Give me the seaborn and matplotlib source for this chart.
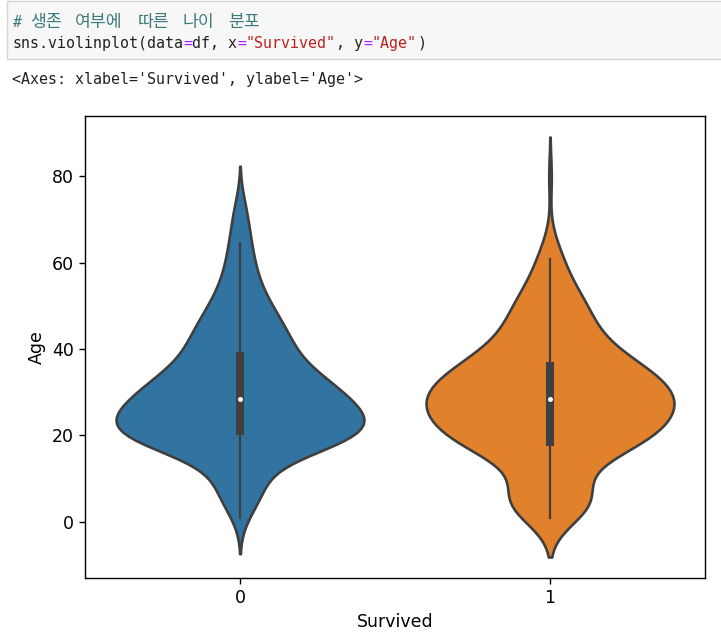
import numpy as np
import pandas as pd
import seaborn as sns
from matplotlib import pyplot as plt
from matplotlib.patches import Rectangle

# Age grid (years) and passenger counts at each age, by survival
ages = [1, 3.5, 6, 8.5, 11, 13.5, 16, 18.5, 21, 23.5, 26, 28.5, 31, 33.5, 36, 38.5,
        41, 43.5, 46, 48.5, 51, 53.5, 56, 58.5, 61, 64.5, 66, 68.5, 71, 74, 80]
died_counts = [2, 5, 7, 8, 7, 7, 18, 39, 39, 41, 35, 31, 30, 25, 18, 16,
               16, 14, 13, 10, 9, 6, 6, 4, 5, 4, 2, 2, 3, 2, 0]
survived_counts = [6, 11, 10, 5, 4, 6, 13, 20, 19, 21, 23, 23, 22, 20, 17, 13,
                   10, 8, 8, 7, 7, 5, 3, 3, 3, 2, 0, 0, 0, 0, 1]
groups = ["0", "1"]
colors = ["#1f77b4", "#ff7f0e"]

df = pd.DataFrame({
    "Survived": np.repeat(groups, [sum(died_counts), sum(survived_counts)]),
    "Age": np.concatenate([np.repeat(ages, died_counts), np.repeat(ages, survived_counts)]),
})

W, H = 721, 638
fig = plt.figure(figsize=(W / 100, H / 100), dpi=100)


def fx(x):
    return x / W


def fy(y):
    return 1 - y / H


# notebook code cell
fig.add_artist(Rectangle((fx(7), fy(59)), fx(730) - fx(7), fy(1) - fy(59),
                         transform=fig.transFigure, facecolor="#f7f7f7",
                         edgecolor="#d4d4d4", linewidth=1))

mono = "DejaVu Sans Mono"
kr = "Noto Sans CJK KR"
char_w = 9
x0 = 12

fig.text(fx(x0), fy(27), "#", family=mono, style="italic", size=10.8, color="#3D7B7B")
for col, word in [(2, "생존"), (7, "여부에"), (14, "따른"), (19, "나이"), (24, "분포")]:
    fig.text(fx(x0 + col * char_w), fy(27), word, family=[kr, mono], size=12.4, color="#3D7B7B")

code_parts = [(0, "sns.violinplot(data", "#212121"), (19, "=", "#AA22FF"), (20, "df, x", "#212121"),
              (25, "=", "#AA22FF"), (26, '"Survived"', "#BA2121"), (36, ", y", "#212121"),
              (39, "=", "#AA22FF"), (40, '"Age"', "#BA2121"), (45, ")", "#212121")]
for col, part, c in code_parts:
    fig.text(fx(x0 + col * char_w), fy(48), part, family=mono, size=10.8, color=c)

fig.text(fx(x0), fy(84), "<Axes: xlabel='Survived', ylabel='Age'>", family=mono, size=10.8, color="#212121")

# violin plot
ax = fig.add_axes([fx(85), fy(578), fx(705) - fx(85), fy(116) - fy(578)])
sns.violinplot(data=df, x="Survived", y="Age", hue="Survived", palette=colors,
               legend=False, linewidth=1.9, ax=ax,
               inner_kws=dict(box_width=5.8, whis_width=1.6, marker="."))

ax.tick_params(labelsize=12.5, length=4.4, width=1)
ax.set_xlabel("Survived", fontsize=12.5)
ax.set_ylabel("Age", fontsize=12.5)
for s in ax.spines.values():
    s.set_linewidth(1)

plt.savefig("out.png", dpi=100)
